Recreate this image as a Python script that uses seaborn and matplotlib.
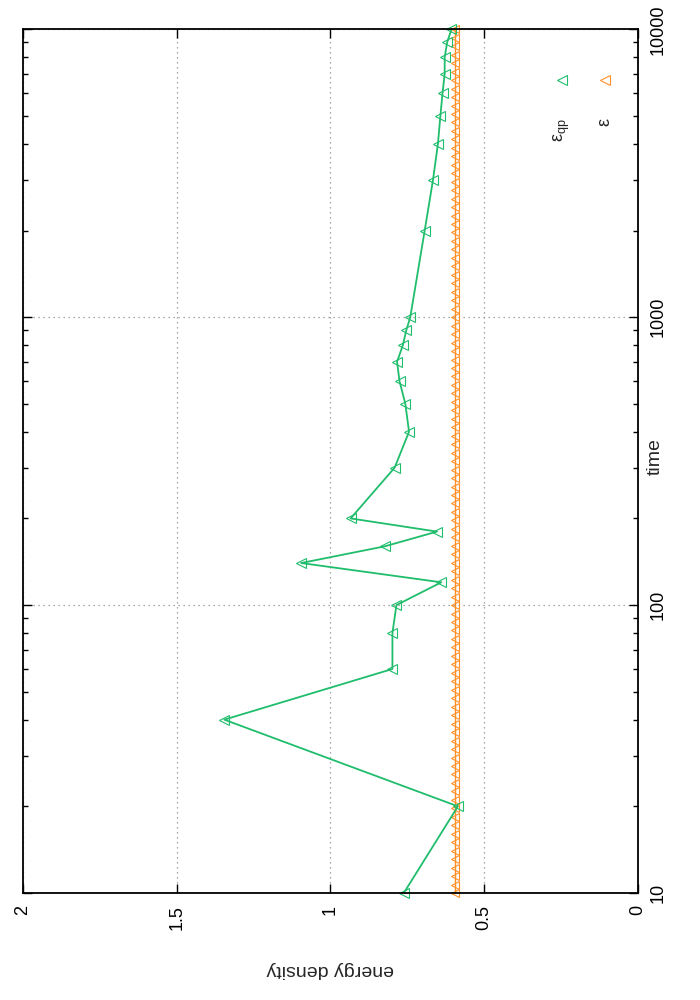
import numpy as np
import pandas as pd
import seaborn as sns
import matplotlib.pyplot as plt
from matplotlib.ticker import LogLocator, NullFormatter, NullLocator

# quasi-particle energy density (green)
qp_time = [10, 20, 40, 60, 80, 100, 120, 140, 160, 180, 200, 300, 400, 500,
           600, 700, 800, 900, 1000, 2000, 3000, 4000, 5000, 6000, 7000,
           8000, 9000, 10000]
qp_energy = [0.761, 0.585, 1.345, 0.798, 0.798, 0.785, 0.639, 1.095, 0.823,
             0.653, 0.934, 0.791, 0.744, 0.756, 0.775, 0.783, 0.764, 0.753,
             0.740, 0.693, 0.666, 0.650, 0.642, 0.635, 0.628, 0.628, 0.620,
             0.606]

# total energy density (orange), constant, dense sampling
eps_time = [10.0, 10.70, 11.45, 12.25, 13.11, 14.03, 15.01, 16.07, 17.19, 18.40,
            19.69, 21.07, 22.54, 24.12, 25.81, 27.62, 29.55, 31.62, 33.84, 36.21,
            38.75, 41.46, 44.37, 47.48, 50.80, 54.36, 58.17, 62.25, 66.61, 71.28,
            76.27, 81.62, 87.34, 93.46,
            100.0, 107.0, 114.5, 122.5, 131.1, 140.3, 150.1, 160.7, 171.9, 184.0,
            196.9, 210.7, 225.4, 241.2, 258.1, 276.2, 295.5, 316.2, 338.4, 362.1,
            387.5, 414.6, 443.7, 474.8, 508.0, 543.6, 581.7, 622.5, 666.1, 712.8,
            762.7, 816.2, 873.4, 934.6,
            1000, 1070, 1145, 1225, 1311, 1403, 1501, 1607, 1719, 1840,
            1969, 2107, 2254, 2412, 2581, 2762, 2955, 3162, 3384, 3621,
            3875, 4146, 4437, 4748, 5080, 5436, 5817, 6225, 6661, 7128,
            7627, 8162, 8734, 9346, 10000]
eps_value = 0.594
eps_energy = [eps_value] * len(eps_time)

energy_ticks = [0, 0.5, 1, 1.5, 2]
energy_ticklabels = ['0', '0.5', '1', '1.5', '2']
time_ticks = [10, 100, 1000, 10000]
time_ticklabels = ['10', '100', '1000', '10000']

green = '#1fbd6c'
orange = '#ff8f26'

sns.set_theme(style='white')
plt.rcParams['font.family'] = ['Liberation Sans', 'DejaVu Sans']
plt.rcParams['font.size'] = 13

fig = plt.figure(figsize=(7, 10), dpi=100)
ax = fig.add_axes([23 / 700, 107 / 1000, 614.7 / 700, 863.7 / 1000])
ax.set_yscale('log')

df_qp = pd.DataFrame({'time': qp_time, 'energy': qp_energy})
df_eps = pd.DataFrame({'time': eps_time, 'energy': eps_energy})

sns.lineplot(data=df_eps, x='energy', y='time', orient='y', sort=False,
             estimator=None, color=orange, lw=1.0, marker='<', ms=6,
             mfc='none', mec=orange, mew=0.8, clip_on=False, ax=ax)
sns.lineplot(data=df_qp, x='energy', y='time', orient='y', sort=False,
             estimator=None, color=green, lw=1.3, marker='<', ms=6.5,
             mfc='none', mec=green, mew=0.8, clip_on=False, ax=ax)

ax.set_xlim(2, 0)
ax.set_ylim(10, 10000)
ax.set_xticks(energy_ticks)
ax.set_xticklabels(energy_ticklabels, rotation=90, fontsize=13)
ax.xaxis.set_minor_locator(NullLocator())
ax.set_yticks(time_ticks)
ax.set_yticklabels(time_ticklabels, rotation=90, va='center', fontsize=13)
ax.yaxis.set_minor_locator(LogLocator(base=10, subs=range(2, 10)))
ax.yaxis.set_minor_formatter(NullFormatter())

ax.tick_params(axis='both', which='both', direction='in', top=True, bottom=True,
               left=True, right=True, labelleft=False, labelright=True,
               colors='black', width=1.0)
ax.tick_params(axis='both', which='major', length=6.5, pad=8.5)
ax.tick_params(axis='both', which='minor', length=3.3)

ax.grid(True, which='major', ls=(0, (1, 3)), color='#8c8c8c', lw=0.9)
ax.set_axisbelow(True)
for s in ax.spines.values():
    s.set_color('black')
    s.set_linewidth(1.3)

ax.set_xlabel('')
ax.set_ylabel('')
ax.text(0.5, -0.089, 'energy density', transform=ax.transAxes, rotation=180,
        ha='center', va='center', fontsize=14)
ax.text(1.028, 0.505, 'time', transform=ax.transAxes, rotation=90,
        ha='center', va='center', fontsize=14)

# key (manual, rotated like the rest of the chart)
ax.plot([0.877], [0.941], transform=ax.transAxes, marker='<', ms=6.5, mfc='none',
        mec=green, mew=0.8, ls='none')
ax.plot([0.947], [0.941], transform=ax.transAxes, marker='<', ms=6.5, mfc='none',
        mec=orange, mew=0.8, ls='none')
ax.text(0.877, 0.897, r'$\mathregular{ε_{qp}}$', transform=ax.transAxes,
        rotation=90, ha='center', va='top', fontsize=13)
ax.text(0.947, 0.897, 'ε', transform=ax.transAxes,
        rotation=90, ha='center', va='top', fontsize=13)

fig.savefig('out.png', dpi=100)
